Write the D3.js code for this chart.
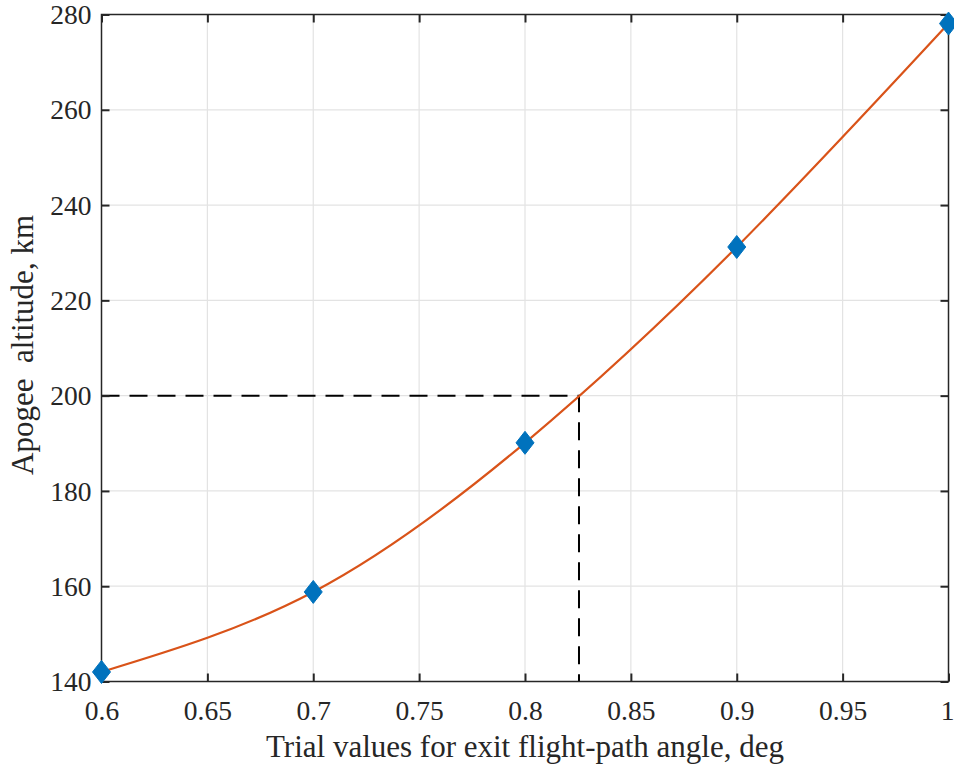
<!DOCTYPE html>
<html>
<head>
<meta charset="utf-8">
<script src="https://cdn.jsdelivr.net/npm/d3@7"></script>
<style>
  html, body { margin: 0; padding: 0; background: #fff; }
  svg text { font-family: "Liberation Serif", "Times New Roman", Times, serif; }
</style>
</head>
<body>
<svg id="chart" width="954" height="769"></svg>
<script>
// Trial exit flight-path angles (deg) and resulting apogee altitudes (km)
const angles = [0.6, 0.7, 0.8, 0.9, 1.0];
const apogee = [142, 158.8, 190.1, 231.2, 278.1];

// Target apogee and the interpolated angle that reaches it
const targetAltitude = 200;
const targetAngle = 0.8255;

const xTicks = [0.6, 0.65, 0.7, 0.75, 0.8, 0.85, 0.9, 0.95, 1];
const yTicks = [140, 160, 180, 200, 220, 240, 260, 280];

const svg = d3.select("#chart");
const margin = { left: 101.5, top: 14.5, right: 5.5, bottom: 87.5 };
const W = 954, H = 769;

const x = d3.scaleLinear().domain([0.6, 1]).range([margin.left, W - margin.right]);
const y = d3.scaleLinear().domain([140, 280]).range([H - margin.bottom, margin.top]);

const axisColor = "#262626";
const serif = "Liberation Serif, Times New Roman, Times, serif";
const tickLen = 8;

// grid
const grid = svg.append("g");
grid.selectAll("line.gx").data(xTicks.slice(1, -1)).join("line")
  .attr("x1", d => x(d)).attr("x2", d => x(d))
  .attr("y1", y(140)).attr("y2", y(280))
  .attr("stroke", "#e3e3e3").attr("stroke-width", 1.2);
grid.selectAll("line.gy").data(yTicks.slice(1, -1)).join("line")
  .attr("x1", x(0.6)).attr("x2", x(1))
  .attr("y1", d => y(d)).attr("y2", d => y(d))
  .attr("stroke", "#e3e3e3").attr("stroke-width", 1.2);

// dashed guide lines to the target apogee
const guide = [[0.6, targetAltitude], [targetAngle, targetAltitude], [targetAngle, 140]];
svg.append("path")
  .attr("d", d3.line().x(d => x(d[0])).y(d => y(d[1]))(guide))
  .attr("fill", "none").attr("stroke", "#000").attr("stroke-width", 2)
  .attr("stroke-dasharray", "18,10");

// interpolating curve through the trial points
const pts = angles.map((a, i) => [a, apogee[i]]);
svg.append("path")
  .attr("d", d3.line().x(d => x(d[0])).y(d => y(d[1])).curve(d3.curveNatural)(pts))
  .attr("fill", "none").attr("stroke", "#D95319").attr("stroke-width", 2.2);

// axes box
svg.append("rect")
  .attr("x", x(0.6)).attr("y", y(280))
  .attr("width", x(1) - x(0.6)).attr("height", y(140) - y(280))
  .attr("stroke", axisColor).attr("stroke-width", 1.5).attr("fill", "none");

// inward ticks on all four sides
const bottomAxis = d3.axisBottom(x).tickValues(xTicks).tickSize(-tickLen).tickFormat(d3.format("~g"));
const topAxis = d3.axisTop(x).tickValues(xTicks).tickSize(-tickLen).tickFormat("");
const leftAxis = d3.axisLeft(y).tickValues(yTicks).tickSize(-tickLen).tickFormat(d3.format("d"));
const rightAxis = d3.axisRight(y).tickValues(yTicks).tickSize(-tickLen).tickFormat("");

function styleAxis(g) {
  g.attr("font-family", serif).attr("font-size", 27.5);
  g.select(".domain").remove();
  g.selectAll(".tick line").attr("stroke", axisColor).attr("stroke-width", 2);
  g.selectAll(".tick text").attr("fill", axisColor)
    .style("font-family", serif);
}

svg.append("g").attr("transform", `translate(0,${y(140)})`).call(bottomAxis).call(styleAxis)
  .selectAll(".tick text").attr("dy", "0").attr("y", 38)
  .attr("x", d => d === 1 ? -1.5 : 0);
svg.append("g").attr("transform", `translate(0,${y(280)})`).call(topAxis).call(styleAxis);
svg.append("g").attr("transform", `translate(${x(0.6)},0)`).call(leftAxis).call(styleAxis)
  .selectAll(".tick text").attr("x", -10).attr("dy", "0.33em");
svg.append("g").attr("transform", `translate(${x(1)},0)`).call(rightAxis).call(styleAxis);

// markers
const diamond = (w, h) => `M0,${-h}L${w},0L0,${h}L${-w},0Z`;
svg.append("g").selectAll("path").data(pts).join("path")
  .attr("transform", d => `translate(${x(d[0])},${y(d[1])})`)
  .attr("d", diamond(9, 11.5))
  .attr("fill", "#0072BD").attr("stroke", "#0072BD").attr("stroke-width", 1);

// axis labels
svg.append("text")
  .attr("x", (x(0.6) + x(1)) / 2).attr("y", 757)
  .attr("text-anchor", "middle").attr("fill", axisColor)
  .attr("font-family", serif).attr("font-size", 31)
  .text("Trial values for exit flight-path angle, deg");

svg.append("text")
  .attr("transform", `translate(33,345) rotate(-90)`)
  .attr("text-anchor", "middle").attr("fill", axisColor)
  .attr("font-family", serif).attr("font-size", 31)
  .style("white-space", "pre")
  .text("Apogee  altitude, km");
</script>
</body>
</html>
